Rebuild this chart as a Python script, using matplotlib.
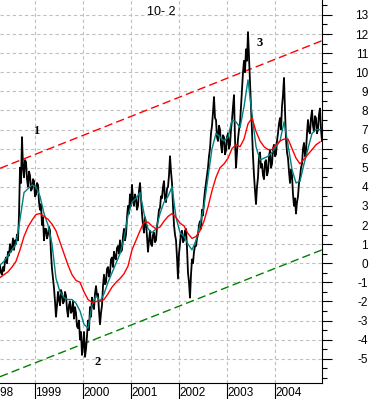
import matplotlib
matplotlib.use("Agg")
import matplotlib.pyplot as plt
import matplotlib.dates as mdates
import matplotlib.transforms as mtransforms
from matplotlib.ticker import MultipleLocator
import numpy as np
import pandas as pd

# 10yr - 2yr spread, weekly readings
spread = [-0.1, -0.5, -0.6, -0.2, -0.4, 0.1, 0.3, 0.0, 0.6, 0.4,
          1.0, 0.6, 0.8, 1.3, 0.7, 1.2, 1.0, 1.5, 1.2, 2.5,
          5.0, 4.2, 6.6, 5.0, 4.5, 5.4, 5.3, 4.4, 4.0, 4.8,
          4.6, 3.8, 3.9, 4.4, 4.3, 3.5, 3.6, 4.2, 4.1, 3.2,
          2.8, 3.1, 2.0, 2.4, 1.2, 1.8, 1.8, 1.3, 1.5, 1.9,
          1.7, 0.5, -0.3, -0.8, -1.3, -2.0, -2.8, -2.2, -1.5, -1.9,
          -2.2, -1.4, -1.6, -2.1, -2.0, -1.5, -1.7, -2.4, -2.8, -2.2,
          -2.0, -2.6, -2.5, -2.0, -2.9, -2.3, -2.6, -3.3, -3.4, -3.0,
          -4.0, -3.6, -4.8, -4.3, -3.6, -4.9, -4.5, -3.8, -3.0, -3.5,
          -2.3, -2.8, -1.8, -2.2, -2.4, -1.6, -1.2, -1.7, -1.6, -2.5,
          -3.2, -2.6, -2.2, -1.2, -0.6, -1.1, -1.0, -0.3, -0.2, -0.7,
          -0.5, 0.2, 0.3, -0.2, 0.6, 0.3, 0.2, 0.8, 0.9, 0.5,
          1.2, 0.6, 0.7, 1.4, 1.8, 1.2, 1.5, 2.4, 3.0, 2.6,
          3.6, 3.0, 4.1, 3.3, 3.0, 3.6, 3.4, 2.8, 3.0, 3.8,
          4.2, 3.4, 2.6, 2.0, 1.6, 2.4, 2.1, 1.4, 0.6, 1.2,
          1.7, 1.0, 0.9, 1.5, 1.6, 1.1, 1.2, 1.9, 2.3, 2.8,
          2.9, 3.5, 3.4, 4.0, 4.3, 3.3, 3.2, 3.9, 4.0, 4.6,
          5.6, 4.8, 4.2, 3.0, 2.0, 1.5, 1.2, 0.3, -0.8, 0.5,
          1.0, 1.6, 1.7, 1.1, 1.2, 1.7, 1.8, 0.8, -0.5, -1.0,
          -1.8, -0.6, 0.2, 0.0, 0.6, 0.9, 0.9, 1.3, 1.5, 2.0,
          2.2, 1.8, 2.8, 2.5, 3.3, 3.8, 4.2, 4.6, 5.0, 5.6,
          6.0, 6.8, 7.2, 7.9, 8.7, 7.6, 7.5, 6.6, 6.4, 7.2,
          7.0, 6.2, 5.8, 6.7, 6.6, 5.7, 5.9, 6.6, 6.8, 6.0,
          6.2, 7.0, 7.5, 8.2, 8.8, 6.5, 5.0, 5.8, 6.5, 7.0,
          7.3, 8.2, 9.0, 10.0, 10.6, 10.0, 11.2, 10.6, 12.1, 10.8,
          9.5, 8.2, 7.0, 5.6, 4.6, 3.8, 3.1, 4.0, 4.5, 5.6,
          5.8, 5.0, 5.2, 4.6, 4.4, 5.3, 5.4, 4.6, 4.8, 5.6,
          5.9, 5.0, 5.2, 6.0, 6.2, 5.6, 5.7, 6.4, 6.8, 7.3,
          7.6, 7.0, 8.2, 8.8, 9.7, 8.0, 6.5, 5.8, 5.5, 4.8,
          4.2, 4.9, 4.6, 3.6, 3.0, 3.4, 2.6, 3.2, 3.5, 4.2,
          4.5, 5.0, 5.2, 6.0, 6.3, 5.6, 5.9, 6.8, 7.5, 6.9,
          6.8, 7.6, 8.0, 7.2, 6.9, 7.7, 7.6, 6.8, 7.0, 7.8,
          8.1, 7.0, 6.4]

# short moving average (monthly readings)
short_ma = [-0.1, 0.1, 0.4, 0.7, 1.0, 2.3, 3.7, 3.9, 4.1, 4.0,
            3.5, 2.6, 2.0, 1.0, -0.8, -1.5, -1.8, -1.9, -1.9, -2.1,
            -2.5, -3.2, -3.4, -2.2, -1.7, -2.0, -1.6, -1.0, -0.5, 0.0,
            0.5, 1.3, 2.5, 3.2, 3.4, 3.7, 2.6, 1.8, 1.6, 1.8,
            2.6, 3.2, 3.5, 4.0, 2.4, 1.6, 1.4, 1.0, 0.7, 1.2,
            2.0, 3.0, 4.5, 6.0, 6.8, 6.6, 6.4, 6.6, 7.5, 7.4,
            7.1, 8.2, 9.6, 7.8, 6.1, 5.4, 5.5, 5.6, 5.8, 6.1,
            6.4, 7.4, 6.2, 4.9, 4.2, 4.3, 5.2, 6.0, 6.8, 7.0,
            7.0]

# long moving average (monthly readings)
long_ma = [-0.75, -0.6, -0.45, -0.2, 0.1, 0.7, 1.4, 1.9, 2.25, 2.55,
           2.6, 2.45, 2.3, 2.05, 1.7, 1.1, 0.5, -0.1, -0.6, -0.9,
           -1.0, -1.5, -1.9, -2.05, -2.0, -2.0, -1.9, -1.6, -1.25, -1.0,
           -0.8, -0.55, -0.15, 0.7, 1.2, 1.7, 2.15, 2.15, 1.95, 1.8,
           1.9, 2.2, 2.45, 2.6, 2.4, 2.1, 1.95, 1.55, 1.3, 1.4,
           1.7, 2.2, 2.95, 3.8, 4.5, 5.0, 5.2, 5.5, 6.0, 6.2,
           6.1, 6.5, 7.3, 7.6, 6.9, 6.4, 6.1, 5.95, 5.95, 6.2,
           6.4, 6.5, 6.5, 6.0, 5.5, 5.2, 5.45, 5.7, 5.95, 6.2,
           6.35]

spread_dates = pd.date_range("1998-04-10", "2004-12-23", periods=len(spread))
ma_dates = pd.date_range("1998-04-10", "2004-12-08", periods=len(short_ma))

# channel lines
channel_dates = [pd.Timestamp("1998-04-10"), pd.Timestamp("2004-12-23")]
upper_channel = [4.97, 11.65]
lower_channel = [-5.94, 0.7]

years = [1998, 1999, 2000, 2001, 2002, 2003, 2004]

# numbered turning points
marks = ["1", "2", "3"]
mark_dates = [pd.Timestamp("1999-01-08"), pd.Timestamp("2000-04-20"), pd.Timestamp("2003-09-03")]
mark_vals = [6.93, -5.17, 11.53]

plt.rcParams["font.family"] = ["Liberation Sans", "DejaVu Sans"]
plt.rcParams["axes.unicode_minus"] = False

fig = plt.figure(figsize=(3.72, 3.99), dpi=100)
ax = fig.add_axes([0, 16 / 399, 322 / 372, 383 / 399])

ax.plot(spread_dates, spread, color="black", lw=1.3, zorder=3)
ax.plot(ma_dates, short_ma, color="#008080", lw=1.0, zorder=4)
ax.plot(ma_dates, long_ma, color="#ff0000", lw=1.0, zorder=4)

ax.plot(channel_dates, upper_channel, color="#ff0000", lw=1.0, dashes=(6, 3), zorder=2)
ax.plot(channel_dates, lower_channel, color="#008000", lw=1.0, dashes=(6, 3), zorder=2)

for m, d, v in zip(marks, mark_dates, mark_vals):
    ax.text(d, v, m, family="Liberation Serif", fontweight="bold", fontsize=9,
            ha="center", va="center", zorder=5)

ax.set_xlim(pd.Timestamp("1998-04-10"), pd.Timestamp("2004-12-23"))
ax.set_ylim(-6.27, 13.78)

year_dates = [pd.Timestamp(f"{y}-01-01") for y in years]
ax.set_xticks(year_dates[1:])
ax.set_xticklabels([str(y) for y in years[1:]], ha="left")
ax.tick_params(axis="x", direction="out", length=11.5, width=0.8, pad=-8.5, labelsize=8.5)

# 1998 label sits mostly off the left edge
trans = mtransforms.blended_transform_factory(ax.transData, ax.transAxes)
ax.text(mdates.date2num(year_dates[0]), -0.011, "1998", transform=trans, fontsize=8.5,
        ha="left", va="top", clip_on=False)

ax.yaxis.tick_right()
ax.yaxis.set_major_locator(MultipleLocator(1))
ax.yaxis.set_minor_locator(MultipleLocator(0.5))
ax.set_yticks(range(-5, 14))
ax.tick_params(axis="y", which="major", direction="out", length=7.2, width=0.8, pad=26, labelsize=8.5)
ax.tick_params(axis="y", which="minor", direction="out", length=3.6, width=0.8)
for lab in ax.get_yticklabels():
    lab.set_horizontalalignment("right")

ax.grid(True, which="major", color="#c0c0c0", lw=0.8, dashes=(3, 2.5))

ax.spines["top"].set_visible(False)
ax.spines["left"].set_visible(False)
ax.spines["right"].set_linewidth(0.8)
ax.spines["bottom"].set_linewidth(0.8)

ax.text(0.5, 0.985, "10- 2", transform=ax.transAxes, ha="center", va="top", fontsize=9)

fig.savefig("out.png", dpi=100)
